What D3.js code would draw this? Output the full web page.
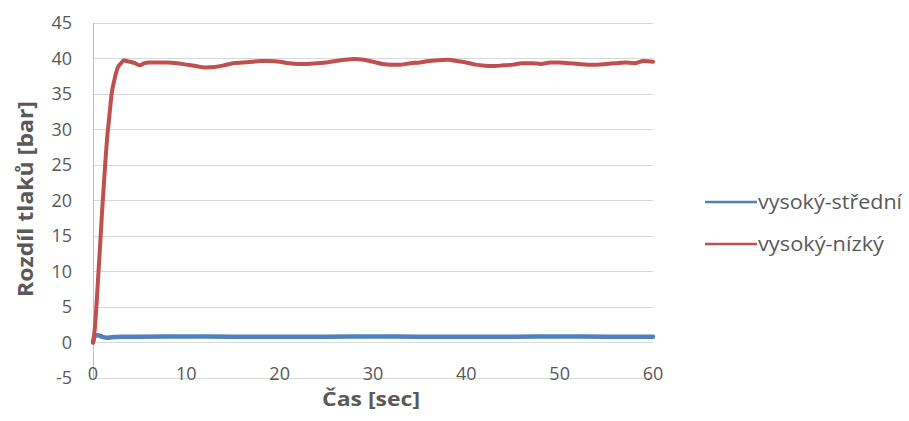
<!DOCTYPE html>
<html>
<head>
<meta charset="utf-8">
<script src="https://cdn.jsdelivr.net/npm/d3@7"></script>
<style>
  html, body { margin: 0; padding: 0; background: #ffffff; }
  svg { display: block; }
  text { font-family: "Open Sans", "Noto Sans", sans-serif; fill: #595959; }
</style>
</head>
<body>
<svg id="chart" width="909" height="421"></svg>
<script>
// ---- data ----
const xTicks = [0, 10, 20, 30, 40, 50, 60];
const yTicks = [-5, 0, 5, 10, 15, 20, 25, 30, 35, 40, 45];
const seriesNames = ["vysoký-střední", "vysoký-nízký"];
const xTitle = "Čas [sec]";
const yTitle = "Rozdíl tlaků [bar]";

// time [s], pressure difference [bar]
const highMidT = [0, 0.2, 0.5, 1, 1.5, 2, 3, 5, 10, 15, 20, 25, 30, 35, 40, 45, 50, 55, 60];
const highMidV = [0, 0.9, 1.0, 0.8, 0.65, 0.75, 0.8, 0.8, 0.85, 0.8, 0.8, 0.8, 0.85, 0.8, 0.8, 0.8, 0.85, 0.8, 0.8];

const highLowT = [0, 0.2, 0.5, 0.8, 1.0, 1.2, 1.5, 1.8, 2.0, 2.3, 2.6, 3.0, 3.3, 3.6, 4.0, 4.5, 5.0, 5.5,
  6, 7, 8, 9, 10, 11, 12, 13, 14, 15, 16, 17, 18, 19, 20, 21, 22, 23, 24, 25, 26, 27, 28, 29, 30,
  31, 32, 33, 34, 35, 36, 37, 38, 39, 40, 41, 42, 43, 44, 45, 46, 47, 48, 49, 50, 51, 52, 53, 54,
  55, 56, 57, 58, 59, 60];
const highLowV = [0, 2, 8, 14.5, 19, 23, 28.5, 32.5, 35, 37, 38.5, 39.3, 39.7, 39.6, 39.5, 39.3, 39.0, 39.3,
  39.4, 39.4, 39.4, 39.3, 39.1, 38.9, 38.7, 38.75, 39.0, 39.3, 39.4, 39.5, 39.6, 39.6, 39.5, 39.3, 39.2, 39.2, 39.3, 39.4, 39.6, 39.8, 39.9, 39.8, 39.5,
  39.2, 39.1, 39.1, 39.3, 39.4, 39.6, 39.7, 39.8, 39.6, 39.4, 39.1, 38.95, 38.9, 39.0, 39.1, 39.3, 39.3, 39.2, 39.4, 39.4, 39.3, 39.2, 39.1, 39.1,
  39.2, 39.3, 39.4, 39.3, 39.6, 39.5];

const colors = ["#4f81bd", "#c0504d"];

// ---- drawing ----
const svg = d3.select("#chart");
const x = d3.scaleLinear().domain([0, 60]).range([93, 653]);
const y = d3.scaleLinear().domain([-5, 45]).range([378, 22.7]);

// gridlines
svg.append("g").selectAll("line").data(yTicks).join("line")
  .attr("x1", x(0)).attr("x2", x(60))
  .attr("y1", d => Math.round(y(d)) + 0.5).attr("y2", d => Math.round(y(d)) + 0.5)
  .attr("stroke", "#d9d9d9").attr("stroke-width", 1);

// vertical axis line
svg.append("line")
  .attr("x1", Math.round(x(0)) + 0.5).attr("x2", Math.round(x(0)) + 0.5)
  .attr("y1", y(45)).attr("y2", y(-5))
  .attr("stroke", "#bfbfbf").attr("stroke-width", 1);

// y tick labels
svg.append("g").selectAll("text").data(yTicks).join("text")
  .attr("x", 72).attr("y", d => y(d)).attr("dy", "0.36em")
  .attr("text-anchor", "end").attr("font-size", 18)
  .text(d => d);

// x tick labels
svg.append("g").selectAll("text").data(xTicks).join("text")
  .attr("x", d => x(d)).attr("y", 380)
  .attr("text-anchor", "middle").attr("font-size", 18)
  .text(d => d);

// axis titles
svg.append("text")
  .attr("x", 371).attr("y", 406)
  .attr("text-anchor", "middle").attr("font-size", 19).attr("font-weight", "bold")
  .attr("textLength", 98).attr("lengthAdjust", "spacingAndGlyphs")
  .text(xTitle);

svg.append("text")
  .attr("transform", "translate(33,199) rotate(-90)")
  .attr("text-anchor", "middle").attr("font-size", 21).attr("font-weight", "bold")
  .attr("textLength", 196).attr("lengthAdjust", "spacingAndGlyphs")
  .text(yTitle);

// series
const line = d3.line().x(d => x(d[0])).y(d => y(d[1])).curve(d3.curveMonotoneX);
const series = [
  d3.zip(highMidT, highMidV),
  d3.zip(highLowT, highLowV)
];
svg.append("g").selectAll("path").data(series).join("path")
  .attr("d", line)
  .attr("fill", "none")
  .attr("stroke", (d, i) => colors[i])
  .attr("stroke-width", (d, i) => i === 0 ? 4.5 : 4)
  .attr("stroke-linejoin", "round").attr("stroke-linecap", "round");

// legend
const legendY = [202, 244];
const lg = svg.append("g");
lg.selectAll("line").data(seriesNames).join("line")
  .attr("x1", 705).attr("x2", 757)
  .attr("y1", (d, i) => legendY[i]).attr("y2", (d, i) => legendY[i])
  .attr("stroke", (d, i) => colors[i]).attr("stroke-width", 2.5);
lg.selectAll("text").data(seriesNames).join("text")
  .attr("x", 758).attr("y", (d, i) => legendY[i]).attr("dy", "0.35em")
  .attr("font-size", 20)
  .attr("textLength", (d, i) => i === 0 ? 144 : 126).attr("lengthAdjust", "spacingAndGlyphs")
  .text(d => d);
</script>
</body>
</html>
